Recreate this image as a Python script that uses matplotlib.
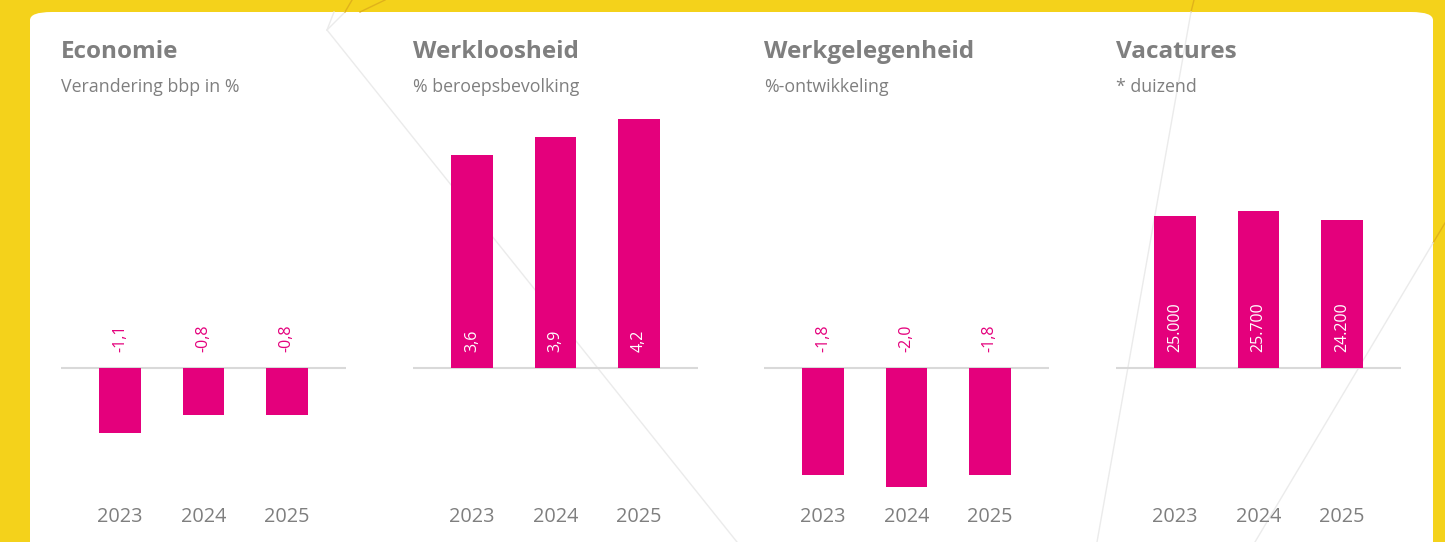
import matplotlib.pyplot as plt
from matplotlib.patches import FancyBboxPatch
from matplotlib.lines import Line2D
import matplotlib.transforms as mtransforms

plt.rcParams['font.family'] = ['Open Sans', 'DejaVu Sans']

YEARS = ["2023", "2024", "2025"]
TITLES = ["Economie", "Werkloosheid", "Werkgelegenheid", "Vacatures"]
SUBTITLES = ["Verandering bbp in %", "% beroepsbevolking", "%-ontwikkeling", "* duizend"]
economie = [-1.1, -0.8, -0.8]
werkloosheid = [3.6, 3.9, 4.2]
werkgelegenheid = [-1.8, -2.0, -1.8]
vacatures = [25000, 25700, 24200]

PINK = "#E4007C"
GREY = "#7F7F7F"
YELLOW = "#F4D21B"
W, H = 1445, 542


def fmt_dec(v):
    return f"{v:.1f}".replace(".", ",")


def fmt_thousands(v):
    return f"{v:,.0f}".replace(",", ".")


fig = plt.figure(figsize=(W / 100, H / 100), dpi=100, facecolor=YELLOW)

# white card
card = FancyBboxPatch((30 / W, -0.1), 1403 / W, 1 - 12 / H + 0.1,
                      boxstyle="round,pad=0,rounding_size=0.015",
                      transform=fig.transFigure, facecolor="white",
                      edgecolor="none", zorder=-2)
fig.patches.append(card)

# faint decorative lines
def px_line(x0, y0, x1, y1, color="#ebebeb", lw=1.0):
    fig.add_artist(Line2D([x0 / W, x1 / W], [1 - y0 / H, 1 - y1 / H],
                          transform=fig.transFigure, color=color, lw=lw, zorder=-1))

px_line(327, 30, 737, 542)
px_line(327, 30, 334, 12)
px_line(327, 30, 345, 12)
px_line(345, 12, 352, 0, color="#e0b21a")
px_line(360, 12, 385, 0, color="#e0b21a")
px_line(1194, 0, 1191, 12, color="#e0b21a")
px_line(1191, 12, 1097, 542)
px_line(1445, 223, 1433, 243, color="#e0b21a")
px_line(1433, 243, 1255, 542)

lefts = [61, 413, 764, 1116]
series = [economie, werkloosheid, werkgelegenheid, vacatures]
px_per_unit = [59.3, 59.3, 59.3, 0.0061]
AX_TOP, AX_BOT, BASE = 95, 500, 368

for left, title, sub, vals, ppu in zip(lefts, TITLES, SUBTITLES, series, px_per_unit):
    ax = fig.add_axes([left / W, 1 - AX_BOT / H, 285 / W, (AX_BOT - AX_TOP) / H])
    ax.set_facecolor("none")
    x = range(len(vals))
    ax.bar(x, vals, width=0.5, color=PINK, zorder=2)
    ax.axhline(0, color="#d9d9d9", lw=1.5, zorder=1)
    ax.set_ylim(-(AX_BOT - BASE) / ppu, (BASE - AX_TOP) / ppu)
    ax.set_xlim(-0.71, 2.71)
    ax.set_xticks(list(x))
    ax.set_xticklabels(YEARS, fontsize=14.3, color=GREY)
    ax.tick_params(axis="x", length=0, pad=5)
    ax.set_yticks([])
    for s in ax.spines.values():
        s.set_visible(False)
    offset = mtransforms.offset_copy(ax.transData, fig=fig, x=0, y=16, units="dots")
    for xi, v in zip(x, vals):
        label = fmt_thousands(v) if ppu < 1 else fmt_dec(v)
        ax.text(xi, 0, label, transform=offset, rotation=90, ha="center",
                va="bottom", fontsize=11.5, color=PINK if v < 0 else "white", zorder=3)
    fig.text(left / W, 1 - 52 / H, title, fontsize=17.5, fontweight="bold",
             color=GREY, va="center", ha="left")
    fig.text(left / W, 1 - 87 / H, sub, fontsize=12.8, color=GREY,
             va="center", ha="left")

fig.savefig("out.png", dpi=100, facecolor=YELLOW)
